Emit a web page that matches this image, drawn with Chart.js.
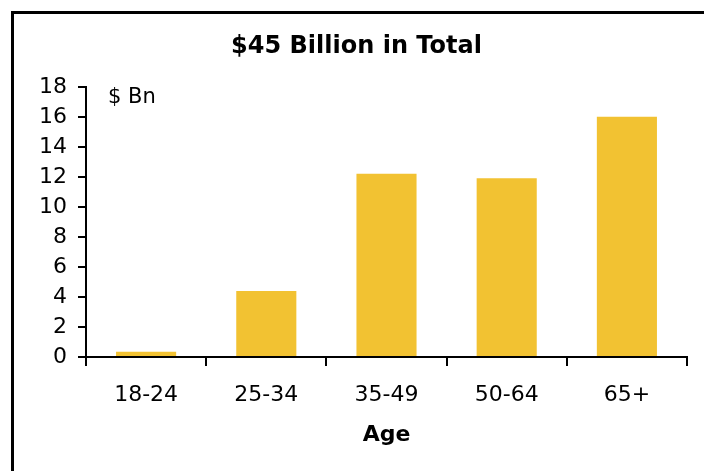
<!DOCTYPE html>
<html>
<head>
    <meta charset="UTF-8">
    <title>$45 Billion in Total</title>
    <script src="https://cdn.jsdelivr.net/npm/chart.js"></script>
    <style>
        body {
            margin: 0;
            background: #fff;
        }

        #wrap {
            position: relative;
            width: 704px;
            height: 471px;
        }

        #frame {
            position: absolute;
            left: 11px;
            top: 11px;
            right: 0;
            bottom: 0;
            border-top: 3px solid #000;
            border-left: 3px solid #000;
            pointer-events: none;
        }
    </style>
</head>
<body>
<div id="wrap">
    <canvas id="ageChart" width="704" height="471"></canvas>
    <div id="frame"></div>
</div>

<script>
    const ageGroups = ['18-24', '25-34', '35-49', '50-64', '65+'];
    const spendBn = [0.35, 4.4, 12.2, 11.9, 16.0];
    const yTicks = [0, 2, 4, 6, 8, 10, 12, 14, 16, 18];

    const FONT = "'DejaVu Sans', Verdana, sans-serif";

    // "$ Bn" unit label in the top-left corner of the plot
    const unitLabel = {
        id: 'unitLabel',
        afterDraw(chart) {
            const ctx = chart.ctx;
            const y = chart.scales.y.getPixelForValue(18);
            ctx.save();
            ctx.font = '21px ' + FONT;
            ctx.fillStyle = '#000';
            ctx.textAlign = 'left';
            ctx.textBaseline = 'alphabetic';
            ctx.fillText('$ Bn', chart.chartArea.left + 22, y + 16);
            ctx.restore();
        }
    };

    const ctx = document.getElementById('ageChart').getContext('2d');
    new Chart(ctx, {
        type: 'bar',
        data: {
            labels: ageGroups,
            datasets: [{
                data: spendBn,
                backgroundColor: '#F2C232',
                barPercentage: 0.5,
                categoryPercentage: 1.0
            }]
        },
        options: {
            responsive: false,
            animation: false,
            layout: {
                // left padding shifts the title centre; y axis width makes up the rest
                padding: {top: 14, right: 17, bottom: 0, left: 26}
            },
            scales: {
                x: {
                    afterFit: s => { s.height = 114; },
                    border: {color: '#000', width: 2},
                    grid: {
                        offset: true,
                        drawOnChartArea: false,
                        color: '#000',
                        lineWidth: 2,
                        tickLength: 9
                    },
                    ticks: {
                        color: '#000',
                        padding: 16,
                        font: {family: FONT, size: 22}
                    },
                    title: {
                        display: true,
                        text: 'Age',
                        color: '#000',
                        padding: {top: 4, bottom: 23},
                        font: {family: FONT, size: 22, weight: 'bold'}
                    }
                },
                y: {
                    min: 0,
                    max: 18,
                    afterFit: s => { s.width = 60; },
                    afterBuildTicks: s => { s.ticks = yTicks.map(v => ({value: v})); },
                    border: {color: '#000', width: 2},
                    grid: {
                        drawOnChartArea: false,
                        color: '#000',
                        lineWidth: 2,
                        tickLength: 8
                    },
                    ticks: {
                        color: '#000',
                        padding: 11,
                        font: {family: FONT, size: 22}
                    }
                }
            },
            plugins: {
                legend: {display: false},
                tooltip: {enabled: false},
                title: {
                    display: true,
                    text: '$45 Billion in Total',
                    color: '#000',
                    padding: {top: 18, bottom: 26},
                    font: {family: FONT, size: 24, weight: 'bold'}
                }
            }
        },
        plugins: [unitLabel]
    });
</script>
</body>
</html>
